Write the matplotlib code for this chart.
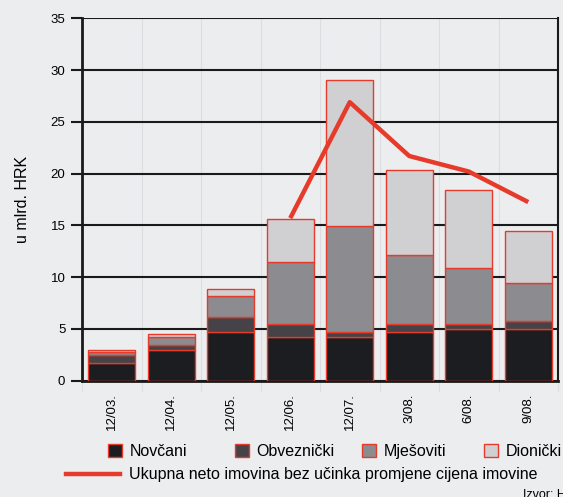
import numpy as np
import matplotlib
matplotlib.use("Agg")
import matplotlib.pyplot as plt
from matplotlib.patches import Patch
from matplotlib.lines import Line2D

plt.rcParams['font.family'] = ['Liberation Sans', 'DejaVu Sans']

# data (u mlrd. HRK)
periods = ["12/03.", "12/04.", "12/05.", "12/06.", "12/07.", "3/08.", "6/08.", "9/08."]
novcani = [1.70, 3.00, 4.70, 4.22, 4.22, 4.70, 4.95, 4.95]
obveznicki = [0.80, 0.47, 1.48, 1.25, 0.51, 0.77, 0.52, 0.77]
mjesoviti = [0.25, 0.75, 2.00, 6.03, 10.17, 6.66, 5.41, 3.71]
dionicki = [0.25, 0.25, 0.72, 4.15, 14.10, 8.22, 7.50, 4.99]
ukupna = [np.nan, np.nan, np.nan, 15.7, 26.9, 21.7, 20.2, 17.25]

labels = ["Novčani", "Obveznički", "Mješoviti", "Dionički"]
colors = ["#1C1D20", "#454347", "#8C8B8F", "#D0D0D2"]
red = "#E63B2A"
bg = "#ECEDEF"

fig = plt.figure(figsize=(5.63, 4.97), dpi=100, facecolor=bg)
ax = fig.add_axes([82/563, 1 - 380.7/497, 476/563, (380.7 - 18.3)/497], facecolor=bg)

x = np.arange(len(periods))
series = [novcani, obveznicki, mjesoviti, dionicki]
bottom = np.zeros(len(periods))
for vals, col, lab in zip(series, colors, labels):
    ax.bar(x, vals, 0.79, bottom=bottom, color=col, edgecolor=red, linewidth=1, zorder=3)
    bottom += np.array(vals)

ax.plot(x, ukupna, color=red, lw=3.2, zorder=5, solid_capstyle='butt')

ax.set_xlim(-0.5, len(periods) - 0.5)
ax.set_ylim(0, 35)
ax.set_yticks(range(0, 36, 5))
ax.grid(axis='y', color='#1A1A1A', lw=1.5, zorder=1)
ax.set_xticks(x)
ax.set_xticklabels(periods, rotation=90, fontsize=9.5)
ax.set_xticks(np.arange(-0.5, len(periods), 1), minor=True)
ax.grid(axis='x', which='minor', color='#DCDDE0', lw=0.8, zorder=0)
ax.tick_params(axis='x', which='major', length=0, pad=9)
ax.tick_params(axis='x', which='minor', length=7, color='#DCDDE0', width=0.8)
ax.tick_params(axis='y', length=8, width=1.5, color='#1A1A1A', labelsize=9.5, pad=4)
for s in ['left', 'bottom']:
    ax.spines[s].set_linewidth(2)
    ax.spines[s].set_color('#1A1A1A')
ax.spines['right'].set_linewidth(1.5)
ax.spines['right'].set_color('#1A1A1A')
ax.spines['top'].set_visible(False)
ax.set_ylabel("u mlrd. HRK", fontsize=11.5, labelpad=15)

# legend entries
leg_x = [108, 235, 362, 484]
for lab, col, lx in zip(labels, colors, leg_x):
    fig.legend(handles=[Patch(facecolor=col, edgecolor=red, lw=1)], labels=[lab],
               loc='center left', bbox_to_anchor=(lx/563, 1 - 451.5/497),
               frameon=False, fontsize=11.5, handlelength=0.85, handleheight=0.85,
               handletextpad=0.5, borderpad=0, borderaxespad=0)
fig.legend(handles=[Line2D([], [], color=red, lw=3.2)],
           labels=["Ukupna neto imovina bez učinka promjene cijena imovine"],
           loc='center left', bbox_to_anchor=(66/563, 1 - 475/497),
           frameon=False, fontsize=11.5, handlelength=3.4, handletextpad=0.55,
           borderpad=0, borderaxespad=0)

fig.text(523/563, 1 - 489/497, "Izvor: HANFA", fontsize=9, va='top', ha='left')

fig.savefig("out.png", dpi=100, facecolor=bg)
